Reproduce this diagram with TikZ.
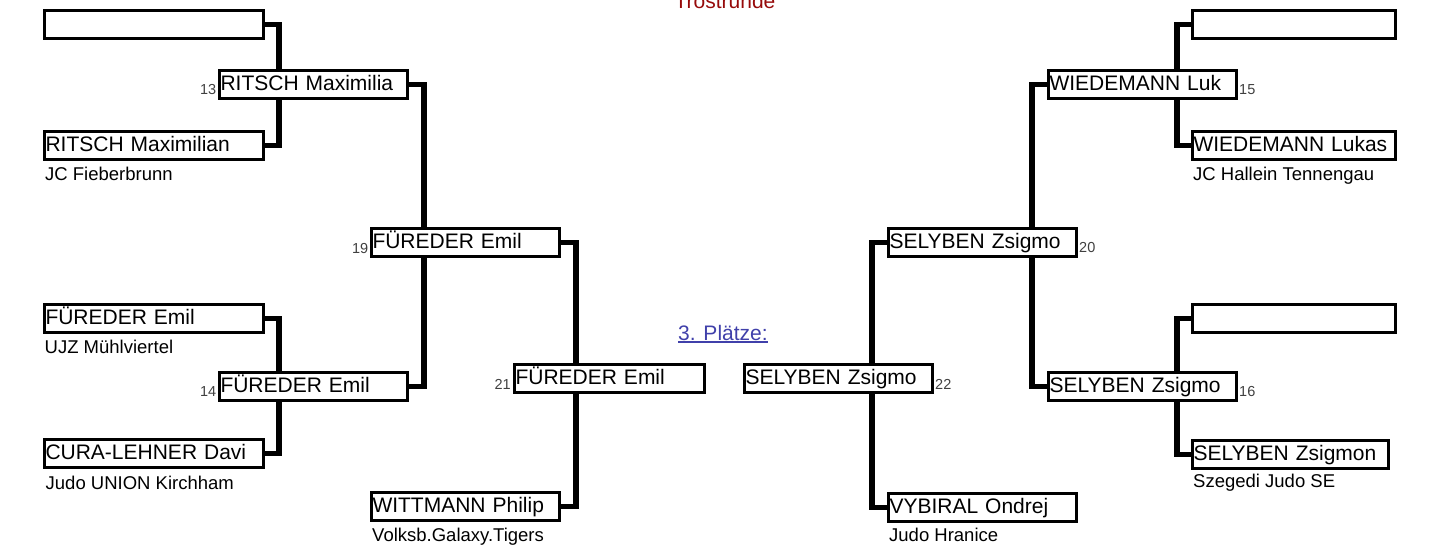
\documentclass[tikz,border=0pt]{standalone}
\usepackage{fontspec}
\setmainfont{Liberation Sans}
\definecolor{numgray}{RGB}{64,64,64}
\definecolor{trored}{RGB}{150,10,10}
\definecolor{plblue}{RGB}{64,64,170}
\tikzset{
  pbox/.style={draw, line width=3pt, inner xsep=1pt, inner ysep=0pt, minimum height=27.5pt,
    anchor=north west, align=left, font=\fontsize{21}{24}\selectfont, text height=15.5pt, text depth=2.5pt},
  wA/.style={minimum width=219pt, text width=217pt},
  wB/.style={minimum width=188pt, text width=186pt},
  wC/.style={minimum width=203pt, text width=201pt},
  wD/.style={minimum width=190pt, text width=188pt},
  wE/.style={minimum width=196pt, text width=194pt},
  club/.style={anchor=base west, inner sep=0pt, font=\fontsize{18.5}{22}\selectfont},
  num/.style={inner sep=0pt, font=\fontsize{14.5}{17}\selectfont, text=numgray},
  conn/.style={line width=5.5pt, line join=miter, line cap=butt},
  ttl/.style={inner sep=0pt, font=\fontsize{21}{24}\selectfont, text=trored},
  plabel/.style={inner sep=0pt, font=\fontsize{21}{24}\selectfont, text=plblue}
}
\begin{document}
\begin{tikzpicture}[x=1pt,y=-1pt]
\useasboundingbox (0,0) rectangle (1455,546);
% headings
\node[ttl, anchor=base] (tr) at (725,9) {Trostrunde};
\node[plabel, anchor=base west] (pl) at (678,340.5) {3. Plätze:};
\draw[plblue, line width=1.3pt] ([yshift=-1.6pt]pl.base west) -- ([yshift=-1.6pt]pl.base east);
% left boxes
\node[pbox,wA] (L1) at (43,9) {};
\node[pbox,wA] (L2) at (43,130) {RITSCH Maximilian};
\node[pbox,wA] (L3) at (43,303) {FÜREDER Emil};
\node[pbox,wA] (L4) at (43,438) {CURA-LEHNER Davi};
\node[pbox,wB] (B13) at (218,69) {RITSCH Maximilia};
\node[pbox,wB] (B14) at (218,371) {FÜREDER Emil};
\node[pbox,wB] (B19) at (370,227) {FÜREDER Emil};
\node[pbox,wB] (W) at (370,491) {WITTMANN Philip};
\node[pbox,wD] (B21) at (513,363) {FÜREDER Emil};
% right boxes
\node[pbox,wB] (B22) at (743,363) {SELYBEN Zsigmo};
\node[pbox,wB] (V) at (887,492) {VYBIRAL Ondrej};
\node[pbox,wB] (B20) at (887,227) {SELYBEN Zsigmo};
\node[pbox,wB] (B15) at (1047,69) {WIEDEMANN Luk};
\node[pbox,wB] (B16) at (1047,371) {SELYBEN Zsigmo};
\node[pbox,wC] (R1) at (1191,9) {};
\node[pbox,wC] (R2) at (1191,130) {WIEDEMANN Lukas};
\node[pbox,wC] (R3) at (1191,303) {};
\node[pbox,wE] (R4) at (1191,439) {SELYBEN Zsigmon};
% clubs
\node[club] (c1) at (45,180) {JC Fieberbrunn};
\node[club] (c2) at (44.5,353) {UJZ Mühlviertel};
\node[club] (c3) at (45.5,489) {Judo UNION Kirchham};
\node[club] (c4) at (372,541) {Volksb.Galaxy.Tigers};
\node[club] (c5) at (889,541.5) {Judo Hranice};
\node[club] (c6) at (1193,180) {JC Hallein Tennengau};
\node[club] (c7) at (1193,487.5) {Szegedi Judo SE};
% numbers
\node[num, anchor=base east] (n13) at (216.5,94) {13};
\node[num, anchor=base east] (n14) at (216.5,396.5) {14};
\node[num, anchor=base east] (n19) at (368.5,253) {19};
\node[num, anchor=base east] (n21) at (511,389) {21};
\node[num, anchor=base west] (n22) at (935,389) {22};
\node[num, anchor=base west] (n20) at (1079,252.7) {20};
\node[num, anchor=base west] (n15) at (1239,94.3) {15};
\node[num, anchor=base west] (n16) at (1239,396) {16};
% connectors left
\draw[conn] (L1.east) -| ([xshift=61pt]B13.north west);
\draw[conn] (L2.east) -| ([xshift=61pt]B13.south west);
\draw[conn] (L3.east) -| ([xshift=61pt]B14.north west);
\draw[conn] (L4.east) -| ([xshift=61pt]B14.south west);
\draw[conn] (B13.east) -| ([xshift=54pt]B19.north west);
\draw[conn] (B14.east) -| ([xshift=54pt]B19.south west);
\draw[conn] (B19.east) -| ([xshift=63pt]B21.north west);
\draw[conn] (W.east) -| ([xshift=63pt]B21.south west);
% connectors right
\draw[conn] (R1.west) -| ([xshift=130pt]B15.north west);
\draw[conn] (R2.west) -| ([xshift=130pt]B15.south west);
\draw[conn] (R3.west) -| ([xshift=130pt]B16.north west);
\draw[conn] (R4.west) -| ([xshift=130pt]B16.south west);
\draw[conn] (B15.west) -| ([xshift=145pt]B20.north west);
\draw[conn] (B16.west) -| ([xshift=145pt]B20.south west);
\draw[conn] (B20.west) -| ([xshift=129pt]B22.north west);
\draw[conn] (V.west) -| ([xshift=129pt]B22.south west);
\end{tikzpicture}
\end{document}
